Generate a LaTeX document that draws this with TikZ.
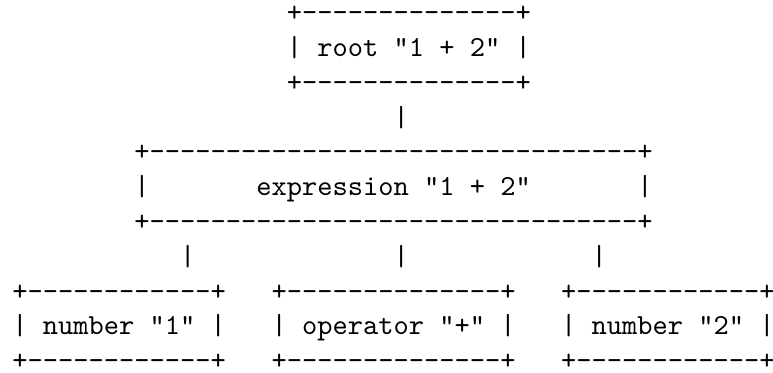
\documentclass[tikz,border=0pt]{standalone}
\usepackage{fontspec}
\setmonofont{lmmono10-regular.otf}
\tikzset{
  asc/.style={anchor=base west, inner sep=0pt, outer sep=0pt,
    font=\fontsize{29.04pt}{34.9pt}\selectfont\ttfamily}
}
\begin{document}
\begin{tikzpicture}
\useasboundingbox (0,0) rectangle (773pt,-372pt);
\begin{scope}[x=15.245pt,y=-34.8pt,shift={(12.4pt,-21.6pt)}]
% root box
\node[asc] (rootT) at (18,0) {+--------------+};
\node[asc] (rootM) at (18,1) {| root "1 + 2" |};
\node[asc] (rootB) at (18,2) {+--------------+};
% connector root -> expression
\node[asc] (c0) at (25,3) {|};
% expression box
\node[asc] (exprT) at (8,4) {+--------------------------------+};
\node[asc] (exprL) at (8,5) {|};
\node[asc] (exprM) at (16,5) {expression "1 + 2"};
\node[asc] (exprR) at (41,5) {|};
\node[asc] (exprB) at (8,6) {+--------------------------------+};
% connectors expression -> children
\node[asc] (c1) at (11,7) {|};
\node[asc] (c2) at (25,7) {|};
\node[asc] (c3) at (38,7) {|};
% number "1"
\node[asc] (n1T) at (0,8) {+------------+};
\node[asc] (n1M) at (0,9) {| number "1" |};
\node[asc] (n1B) at (0,10) {+------------+};
% operator "+"
\node[asc] (opT) at (17,8) {+--------------+};
\node[asc] (opM) at (17,9) {| operator "+" |};
\node[asc] (opB) at (17,10) {+--------------+};
% number "2"
\node[asc] (n2T) at (36,8) {+------------+};
\node[asc] (n2M) at (36,9) {| number "2" |};
\node[asc] (n2B) at (36,10) {+------------+};
\end{scope}
\end{tikzpicture}
\end{document}
